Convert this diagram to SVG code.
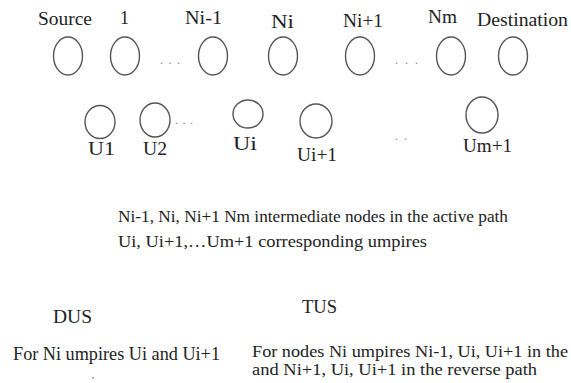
<svg xmlns="http://www.w3.org/2000/svg" width="571" height="383" viewBox="0 0 571 383" font-family="'Liberation Serif', serif">
<style>
text{fill:#222;font-size:18px}
.n{fill:none;stroke:#555;stroke-width:1.4}
.d{font-size:12px;fill:#888}
.s{font-size:16.5px}
.m{font-size:17px}
</style>
<rect width="571" height="383" fill="#fff"/>
<g id="source"><ellipse class="n" cx="68" cy="56" rx="14.5" ry="19"/><text x="38" y="25" textLength="54" lengthAdjust="spacingAndGlyphs">Source</text></g>
<g id="n1"><ellipse class="n" cx="125" cy="56" rx="14.5" ry="19"/><text x="120" y="24">1</text></g>
<g id="ni-1"><ellipse class="n" cx="213" cy="56" rx="14.5" ry="19"/><text x="185" y="24" textLength="37" lengthAdjust="spacingAndGlyphs">Ni-1</text></g>
<g id="ni"><ellipse class="n" cx="283" cy="56" rx="14.5" ry="19"/><text x="271" y="28" textLength="23" lengthAdjust="spacingAndGlyphs">Ni</text></g>
<g id="ni+1"><ellipse class="n" cx="360" cy="56" rx="14.5" ry="19"/><text x="343" y="27" textLength="40" lengthAdjust="spacingAndGlyphs">Ni+1</text></g>
<g id="nm"><ellipse class="n" cx="451" cy="56" rx="14.5" ry="19"/><text x="428" y="23" textLength="29" lengthAdjust="spacingAndGlyphs">Nm</text></g>
<g id="destination"><ellipse class="n" cx="513" cy="56" rx="14.5" ry="19"/><text x="477" y="26" textLength="91" lengthAdjust="spacingAndGlyphs">Destination</text></g>
<text class="d" x="160" y="64" textLength="20">. . .</text>
<text class="d" x="395" y="64" textLength="23">. . .</text>
<g id="u1"><ellipse class="n" cx="100" cy="122" rx="15" ry="16.5"/><text x="88" y="155" textLength="27" lengthAdjust="spacingAndGlyphs">U1</text></g>
<g id="u2"><ellipse class="n" cx="155" cy="120" rx="15" ry="17"/><text x="143" y="155" textLength="24" lengthAdjust="spacingAndGlyphs">U2</text></g>
<g id="ui"><ellipse class="n" cx="248" cy="114" rx="15" ry="14"/><text x="233" y="150" textLength="24" lengthAdjust="spacingAndGlyphs">Ui</text></g>
<g id="ui+1"><ellipse class="n" cx="316" cy="121" rx="16" ry="17"/><text x="297" y="161" textLength="40" lengthAdjust="spacingAndGlyphs">Ui+1</text></g>
<g id="um+1"><ellipse class="n" cx="482" cy="115" rx="16" ry="18"/><text x="463" y="152" textLength="49" lengthAdjust="spacingAndGlyphs">Um+1</text></g>
<text class="d" x="175" y="124" textLength="18">. . .</text>
<text class="d" x="395" y="140" textLength="12">. .</text>
<g id="connectors"/>
<text class="m" x="118" y="222" textLength="390" lengthAdjust="spacingAndGlyphs">Ni-1, Ni, Ni+1 Nm intermediate nodes in the active path</text>
<text class="m" x="118" y="247" textLength="309" lengthAdjust="spacingAndGlyphs">Ui, Ui+1,…Um+1 corresponding umpires</text>
<text x="53" y="323" textLength="39" lengthAdjust="spacingAndGlyphs">DUS</text>
<text x="302" y="313" textLength="35" lengthAdjust="spacingAndGlyphs">TUS</text>
<text x="13" y="360" textLength="207" lengthAdjust="spacingAndGlyphs">For Ni umpires Ui and Ui+1</text>
<text class="s" x="252" y="357" textLength="316" lengthAdjust="spacingAndGlyphs">For nodes Ni umpires Ni-1, Ui, Ui+1 in the</text>
<text class="s" x="252" y="375" textLength="285" lengthAdjust="spacingAndGlyphs">and Ni+1, Ui, Ui+1 in the reverse path</text>
<line x1="92" y1="378" x2="94" y2="378" stroke="#666" stroke-width="1.2"/>
</svg>
